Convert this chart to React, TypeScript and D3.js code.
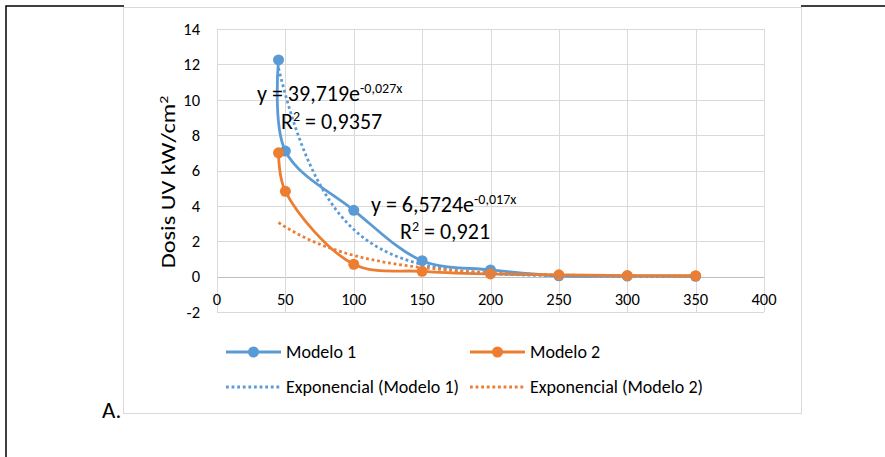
import React, { useEffect, useRef } from 'react';
import * as d3 from 'd3';

// dosis (x) y valores de cada modelo
const doses = [45, 50, 100, 150, 200, 250, 300, 350];
const modelo1 = [12.25, 7.1, 3.75, 0.9, 0.38, 0.05, 0.03, 0.02];
const modelo2 = [7.0, 4.82, 0.7, 0.3, 0.15, 0.1, 0.06, 0.05];

// coeficientes de las líneas de tendencia exponencial (y = a e^(b x))
const trendA = [39.719, 6.5724];
const trendB = [-0.027, -0.017];
const trendLabels = ['39,719', '6,5724'];
const trendExp = ['-0,027x', '-0,017x'];
const trendR2 = ['0,9357', '0,921'];

const xTicks = [0, 50, 100, 150, 200, 250, 300, 350, 400];
const yTicks = [-2, 0, 2, 4, 6, 8, 10, 12, 14];
const seriesNames = ['Modelo 1', 'Modelo 2'];

const FONT = 'Calibri, Carlito, Lato, sans-serif';
const colors = ['#5B9BD5', '#ED7D31'];

const App = () => {
  const ref = useRef<SVGSVGElement>(null);

  useEffect(() => {
    const svg = d3.select(ref.current);
    svg.selectAll('*').remove();

    // marco de la página
    svg.append('path')
      .attr('d', 'M6,457 V6 H124 M801,6 H885')
      .attr('fill', 'none')
      .attr('stroke', '#000')
      .attr('stroke-width', 1.5);

    // caja del gráfico
    svg.append('rect')
      .attr('x', 123.5).attr('y', 7.5)
      .attr('width', 678).attr('height', 406)
      .attr('fill', '#fff')
      .attr('stroke', '#d9d9d9');

    svg.append('text')
      .attr('x', 102).attr('y', 418)
      .attr('font-family', FONT).attr('font-size', 23)
      .text('A.');

    const x = d3.scaleLinear().domain([0, 400]).range([217, 764]);
    const y = d3.scaleLinear().domain([-2, 14]).range([312, 29]);

    const grid = svg.append('g');
    grid.selectAll('.h').data(yTicks).enter().append('line')
      .attr('x1', x(0)).attr('x2', x(400))
      .attr('y1', (d) => Math.round(y(d)) + 0.5).attr('y2', (d) => Math.round(y(d)) + 0.5)
      .attr('stroke', (d) => (d === 0 ? '#bfbfbf' : '#d9d9d9'));
    grid.selectAll('.v').data(xTicks).enter().append('line')
      .attr('y1', y(14)).attr('y2', y(-2))
      .attr('x1', (d) => Math.round(x(d)) + 0.5).attr('x2', (d) => Math.round(x(d)) + 0.5)
      .attr('stroke', '#d9d9d9');

    svg.append('g').selectAll('text').data(yTicks).enter().append('text')
      .attr('x', 200).attr('y', (d) => y(d))
      .attr('dy', '0.35em')
      .attr('text-anchor', 'end')
      .attr('font-family', FONT).attr('font-size', 16.5)
      .attr('fill', '#000')
      .text((d) => d);

    svg.append('g').selectAll('text').data(xTicks).enter().append('text')
      .attr('x', (d) => x(d)).attr('y', y(0) + 23)
      .attr('dy', '0.35em')
      .attr('text-anchor', 'middle')
      .attr('font-family', FONT).attr('font-size', 16.5)
      .attr('fill', '#000')
      .text((d) => d);

    svg.append('text')
      .attr('transform', 'translate(175,182) scale(1,1.22) rotate(-90)')
      .attr('text-anchor', 'middle')
      .attr('font-family', FONT).attr('font-size', 20)
      .text('Dosis UV kW/cm')
      .append('tspan').attr('dy', -7).attr('font-size', 13).text('2');

    const line = d3.line<number>()
      .x((d, i) => x(doses[i]))
      .y((d) => y(d))
      .curve(d3.curveCatmullRom.alpha(0.5));

    [modelo1, modelo2].forEach((vals, s) => {
      const g = svg.append('g');
      g.append('path')
        .attr('d', line(vals))
        .attr('fill', 'none')
        .attr('stroke', colors[s])
        .attr('stroke-width', 2.8);
      g.selectAll('circle').data(vals).enter().append('circle')
        .attr('cx', (d, i) => x(doses[i]))
        .attr('cy', (d) => y(d))
        .attr('r', 5.5)
        .attr('fill', colors[s]);
    });

    // líneas de tendencia
    const xs = d3.range(doses[0], doses[doses.length - 1] + 1, 2);
    trendA.forEach((a, s) => {
      const tl = d3.line<number>().x((d) => x(d)).y((d) => y(a * Math.exp(trendB[s] * d)));
      svg.append('path')
        .attr('d', tl(xs))
        .attr('fill', 'none')
        .attr('stroke', colors[s])
        .attr('stroke-width', 2.8)
        .attr('stroke-dasharray', '2.8 2.8');
    });

    // etiquetas de ecuaciones
    const eqPos = [[257, 101, 281, 129], [371, 212, 400, 239]];
    eqPos.forEach((p, s) => {
      const t = svg.append('text')
        .attr('x', p[0]).attr('y', p[1])
        .attr('font-family', FONT).attr('font-size', 22).attr('fill', '#000');
      t.append('tspan').text(`y = ${trendLabels[s]}e`);
      t.append('tspan').attr('dy', -8).attr('font-size', 14).text(trendExp[s]);
      const r = svg.append('text')
        .attr('x', p[2]).attr('y', p[3])
        .attr('font-family', FONT).attr('font-size', 22).attr('fill', '#000');
      r.append('tspan').text('R');
      r.append('tspan').attr('dy', -8).attr('font-size', 14).text('2');
      r.append('tspan').attr('dy', 8).text(` = ${trendR2[s]}`);
    });

    // leyenda
    const legX = [226, 470];
    const legY = [352, 387];
    seriesNames.forEach((name, s) => {
      const g = svg.append('g');
      g.append('line')
        .attr('x1', legX[s]).attr('x2', legX[s] + 55)
        .attr('y1', legY[0]).attr('y2', legY[0])
        .attr('stroke', colors[s]).attr('stroke-width', 2.8);
      g.append('circle')
        .attr('cx', legX[s] + 27.5).attr('cy', legY[0]).attr('r', 5.5)
        .attr('fill', colors[s]);
      g.append('text')
        .attr('x', legX[s] + 60).attr('y', legY[0]).attr('dy', '0.35em')
        .attr('font-family', FONT).attr('font-size', 18)
        .text(name);
      g.append('line')
        .attr('x1', legX[s]).attr('x2', legX[s] + 55)
        .attr('y1', legY[1]).attr('y2', legY[1])
        .attr('stroke', colors[s]).attr('stroke-width', 2.8)
        .attr('stroke-dasharray', '2.8 2.8');
      g.append('text')
        .attr('x', legX[s] + 60).attr('y', legY[1]).attr('dy', '0.35em')
        .attr('font-family', FONT).attr('font-size', 18)
        .text(`Exponencial (${name})`);
    });
  }, []);

  return (
    <svg ref={ref} width={885} height={457}
      style={{ position: 'absolute', left: 0, top: 0, background: '#fff' }} />
  );
};

export default App;
